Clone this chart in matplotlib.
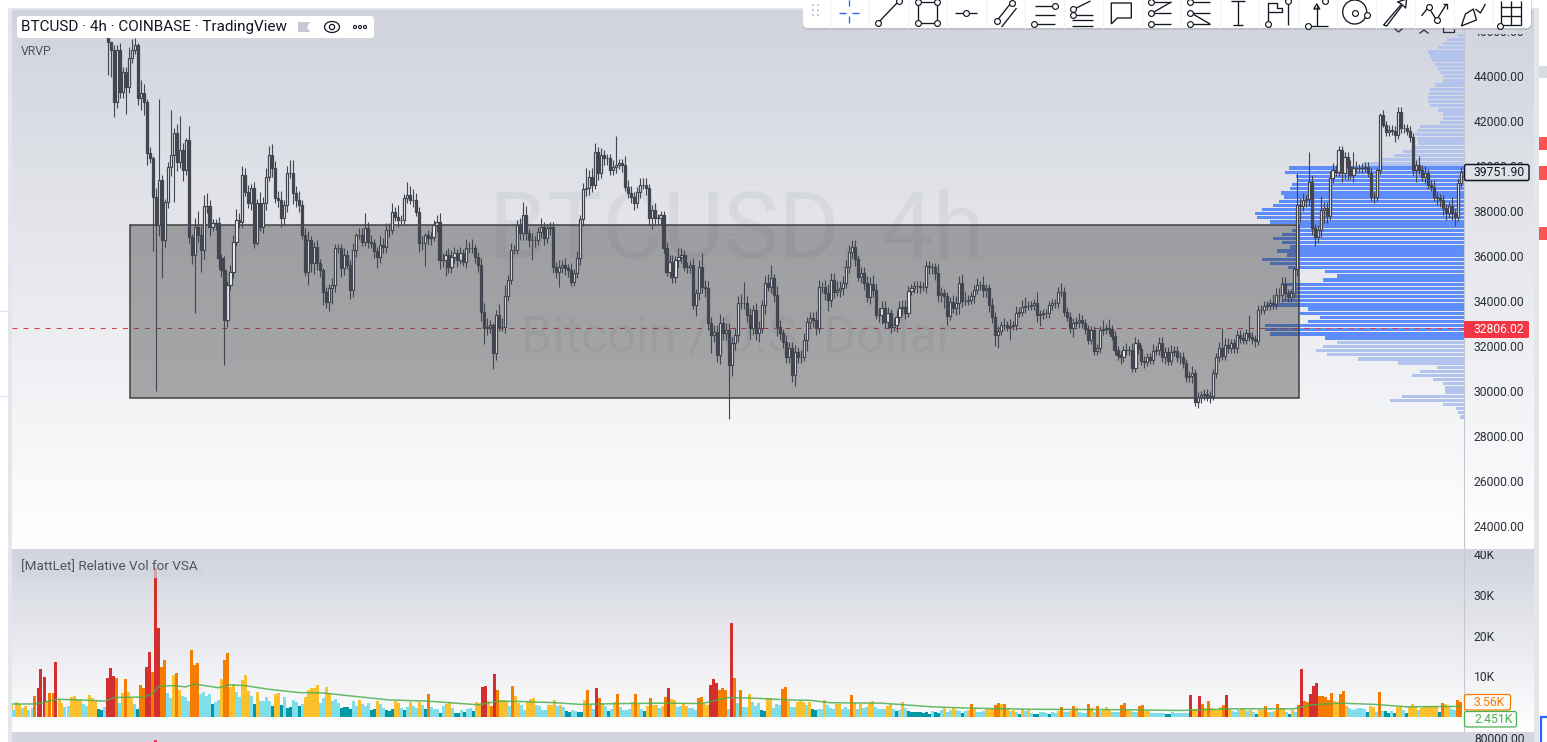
import numpy as np
import matplotlib
matplotlib.use('Agg')
import matplotlib.pyplot as plt
from matplotlib.colors import LinearSegmentedColormap
from matplotlib.patches import Rectangle, FancyBboxPatch, Ellipse, Circle, Polygon

plt.rcParams['font.family'] = ['Roboto', 'DejaVu Sans']

# candle closes (USD), open = previous close
closes = [
    45530, 45160, 42860, 45160, 43300, 44190, 43530, 44790, 45160, 45380,
    43010, 43230, 42860, 40560, 40340, 38640, 37380, 39380, 36710, 38420,
    39970, 40490, 41480, 40190, 40710, 39820, 41160, 36860, 36050, 37310,
    36940, 36270, 38200, 38200, 37310, 37450, 37450, 35900, 35380, 33160,
    34710, 35310, 36640, 37600, 37530, 39600, 38860, 38340, 39010, 36570,
    38340, 37310, 38340, 39530, 40490, 39900, 38570, 38490, 37680, 38270,
    39680, 39680, 38790, 38490, 38270, 36940, 35310, 36710, 35680, 36420,
    35680, 35380, 34420, 33970, 34570, 34710, 36340, 36340, 35460, 36050,
    35600, 34490, 36270, 36940, 36940, 36640, 37230, 36640, 36570, 36200,
    35970, 36490, 36420, 37160, 37160, 37970, 37750, 37600, 37600, 38570,
    38710, 38490, 38490, 37970, 36570, 36570, 36940, 36790, 36860, 37380,
    37530, 35830, 35830, 36050, 35530, 35970, 36120, 35830, 36120, 35750,
    36340, 36340, 36340, 35970, 35600, 33530, 32790, 32860, 32940, 31680,
    33380, 32860, 32860, 34200, 34940, 36270, 36270,
    37380, 37010, 37820, 37010, 36710, 36710, 36710, 37080, 37310, 36790,
    37230, 37310, 35530, 35310, 35530, 35600, 35450, 35380, 34860, 35230,
    35900, 37630, 38960, 39010, 39530, 39160, 40640, 39680, 40490, 40340,
    40340, 39820, 39970, 40050, 40120, 40050, 39080, 38790, 38640, 38340,
    38860, 39160, 39160, 39010, 37680, 38050, 37680, 37680, 37820, 36340,
    35310, 35750, 35080, 35820, 35970, 36050, 35530, 35530, 35600, 33830,
    34340, 35530, 34640, 34570, 33010, 32490, 32640, 31600, 33010, 32570,
    32710, 31160, 32120, 32490, 33930, 33930, 33930, 33380, 32790, 33600,
    32570, 32790, 33830, 34790, 34640, 35010, 34270, 32860, 32570, 32200,
    31530, 31900, 30720, 31750, 31530, 31530, 32270, 33080, 33230, 33160,
    32790, 34640, 34640, 34340, 34050, 34940, 34420, 34490, 34570, 34790,
    35530, 36190, 36390, 35850, 35080, 35230, 34790, 34170, 34760, 34490,
    33380, 33380, 33680, 33080, 33450, 32860, 32940, 33310, 33680, 33750,
    33480, 34460, 34570, 34670, 34670, 34640, 34640, 35560, 35500, 35500,
    35230, 34270, 34340, 34200, 33340, 33970, 33680, 33900, 34820, 34020,
    34020, 34050, 34200, 34490, 34710, 34710, 34490, 34570, 33830, 33310,
    32490,
    32680, 32930, 32930, 32860, 32890, 32930, 33480, 33530, 33750, 33780,
    33780, 33820, 33900, 33380, 33420, 33450, 33450, 33820, 33900, 33900,
    34420, 34420, 33530, 33310, 32790, 33040, 33080, 33160, 33010, 32740,
    32270, 32710, 31780, 31900, 32710, 32740, 32790, 32740, 32450, 31820,
    31600, 31500, 31820, 31820, 31820, 31040, 32120, 31850, 31350, 31310,
    31500, 31380, 31790, 31820, 32120, 31500, 31750, 31350, 31750, 31780,
    31500, 31530, 31230, 30610, 30670, 30790, 29530, 29750, 29820, 29870,
    29750, 29780, 30790, 31500, 31900, 31560, 32050, 31900, 32120, 31900,
    32490, 32340, 32270, 32560, 32420, 32300, 32240, 33600, 33600, 33780,
    33820, 33900, 33850, 34270, 34270, 34760, 34340, 34160, 34340,
    35410, 38270, 38200, 38490, 38520, 39310, 37230, 36860, 37160, 38050,
    38120, 37780, 39460, 39830, 39750, 40710, 39710, 40420, 39970, 39600,
    39930, 39900, 39900, 39930, 39970, 39710, 38640, 38640, 39830, 42270,
    41820, 41530, 41600, 41570, 41380, 42420, 41680, 41680, 41570, 41280,
    39800, 40050, 39830, 39530, 39680, 39160, 39080, 38640, 38570, 38490,
    38120, 37900, 38200, 37900, 37750, 39260, 39750,
]
# wick lengths above / below the body, in hundreds of USD
up_wick = [
    0, 0, 2, 2, 3, 2, 2, 5, 5, 3, 1, 6, 4, 1, 3, 1, 4, 36, 2, 1,
    2, 20, 2, 4, 15, 3, 1, 6, 1, 4, 7, 4, 5, 6, 3, 2, 2, 3, 2, 6,
    2, 3, 3, 5, 3, 4, 3, 3, 2, 3, 2, 5, 3, 4, 4, 5, 3, 3, 4, 2,
    3, 6, 6, 3, 4, 2, 3, 4, 2, 2, 3, 2, 1, 2, 2, 3, 2, 2, 2, 3,
    2, 2, 3, 1, 3, 3, 7, 3, 3, 2, 2, 4, 3, 3, 3, 4, 2, 5, 2, 2,
    6, 4, 5, 3, 2, 3, 1, 2, 2, 2, 3, 4, 3, 2, 3, 3, 3, 2, 3, 2,
    4, 3, 4, 2, 2, 3, 4, 4, 2, 1, 2, 5, 4, 5, 2, 3, 2,
    2, 3, 6, 4, 2, 3, 2, 2, 4, 2, 2, 2, 2, 2, 3, 2, 3, 2, 3, 2,
    3, 2, 3, 9, 3, 4, 4, 2, 3, 2, 2, 2, 3, 13, 2, 2, 4, 3, 3, 2,
    2, 3, 3, 3, 2, 2, 3, 2, 2, 2, 3, 3, 3, 2, 4, 3, 2, 2, 2, 3,
    2, 3, 6, 3, 3, 3, 3, 3, 4, 3, 3, 3, 3, 3, 3, 4, 9, 3, 3, 2,
    3, 3, 2, 3, 4, 6, 2, 4, 3, 2, 3, 3, 3, 3, 2, 3, 3, 2, 3, 3,
    4, 3, 2, 3, 4, 3, 3, 4, 3, 3, 3, 3, 3, 3, 2, 3, 3, 3, 3, 4,
    3, 3, 3, 3, 3, 2, 3, 3, 3, 3, 3, 2, 2, 2, 2, 2, 2, 2, 2, 2,
    2, 4, 3, 2, 2, 2, 3, 3, 3, 4, 4, 2, 2, 2, 3, 2, 4, 2, 2, 3, 2,
    2, 2, 3, 2, 3, 2, 3, 2, 3, 4, 2, 2, 2, 5, 2, 2, 2, 2, 2, 2,
    2, 4, 2, 2, 2, 2, 2, 3, 2, 2, 2, 2, 2, 2, 2, 4, 2, 4, 2, 2,
    2, 2, 2, 3, 2, 3, 3, 2, 2, 2, 2, 2, 3, 2, 3, 3, 2, 2, 3, 2,
    2, 2, 2, 2, 2, 3, 2, 2, 2, 2, 2, 2, 2, 2, 3, 9, 3, 3, 2, 2,
    2, 2, 3, 2, 8, 2, 2, 2, 2, 2, 2, 2, 4, 3, 3, 3, 3, 2, 2,
    1, 14, 3, 3, 2, 13, 3, 2, 2, 6, 3, 3, 3, 3, 2, 2, 2, 2, 2, 3,
    7, 3, 2, 2, 2, 2, 2, 2, 1, 1, 2, 2, 2, 2, 2, 2, 2, 2, 2, 2,
    2, 2, 4, 2, 3, 2, 2, 3, 2, 2, 2, 2, 2, 4, 2, 2, 2,
]
down_wick = [
    15, 12, 7, 3, 3, 3, 12, 3, 2, 2, 3, 5, 6, 5, 2, 24, 74, 5, 17, 3,
    3, 4, 21, 4, 3, 5, 2, 3, 4, 26, 3, 10, 4, 3, 4, 2, 3, 5, 3, 20,
    3, 2, 3, 2, 3, 3, 2, 2, 3, 2, 1, 2, 3, 3, 2, 4, 2, 3, 4, 3,
    3, 2, 5, 3, 3, 2, 2, 6, 4, 5, 3, 3, 6, 3, 4, 7, 3, 2, 4, 3,
    2, 4, 3, 3, 2, 2, 2, 3, 2, 3, 5, 3, 3, 3, 3, 2, 2, 3, 2, 2,
    2, 2, 3, 2, 4, 3, 10, 3, 3, 2, 3, 4, 3, 7, 3, 3, 3, 3, 2, 2,
    3, 2, 2, 3, 3, 4, 7, 3, 3, 7, 3, 2, 2, 3, 2, 2, 2,
    2, 3, 3, 3, 3, 9, 3, 2, 3, 3, 2, 3, 3, 3, 7, 3, 3, 3, 2, 2,
    2, 3, 3, 3, 3, 3, 2, 3, 2, 3, 3, 2, 2, 3, 2, 3, 2, 2, 3, 3,
    2, 3, 2, 3, 3, 5, 3, 3, 3, 2, 2, 3, 3, 3, 3, 3, 2, 3, 3, 2,
    5, 3, 3, 4, 3, 8, 3, 3, 4, 3, 3, 24, 5, 3, 3, 3, 3, 3, 5, 3,
    3, 4, 2, 4, 2, 3, 3, 4, 3, 3, 3, 3, 3, 5, 3, 3, 2, 5, 3, 3,
    3, 2, 3, 3, 5, 3, 3, 2, 3, 3, 2, 3, 3, 3, 2, 3, 3, 2, 3, 3,
    2, 3, 4, 3, 3, 3, 2, 3, 3, 3, 3, 2, 2, 2, 3, 3, 2, 3, 3, 3,
    3, 3, 3, 5, 4, 2, 2, 3, 5, 3, 2, 2, 2, 3, 2, 2, 3, 3, 3, 3, 5,
    6, 2, 2, 2, 6, 2, 2, 2, 2, 3, 2, 2, 2, 3, 5, 2, 2, 2, 2, 2,
    2, 2, 2, 2, 2, 4, 2, 3, 2, 2, 2, 2, 2, 2, 2, 2, 2, 2, 2, 2,
    2, 3, 2, 2, 2, 2, 2, 2, 2, 3, 2, 2, 2, 2, 2, 2, 3, 2, 2, 2,
    2, 3, 2, 2, 2, 3, 2, 3, 3, 2, 2, 3, 2, 2, 2, 2, 2, 2, 2, 2,
    2, 2, 2, 2, 2, 2, 3, 2, 2, 2, 2, 2, 2, 2, 3, 3, 3, 2, 2,
    2, 3, 7, 2, 3, 3, 3, 4, 3, 3, 6, 3, 2, 2, 2, 2, 4, 3, 6, 2,
    3, 2, 2, 2, 2, 2, 2, 3, 2, 2, 1, 2, 2, 2, 3, 2, 2, 2, 2, 2,
    2, 5, 2, 2, 3, 2, 2, 2, 3, 3, 3, 3, 2, 3, 4, 2, 2,
]

# relative volume in thousands, and a colour class per bar
vol_k = [
    3.0, 1.7, 3.7, 3.2, 2.2, 2.7, 1.7, 2.2, 5.2, 7.1,
    11.8, 9.9, 3.7, 5.9, 5.9, 13.5, 4.2, 3.4, 2.5, 2.7,
    4.9, 5.2, 4.2, 4.2, 3.2, 2.7, 5.4, 4.7, 4.2, 2.0,
    1.7, 2.5, 9.6, 12.1, 10.1, 9.6, 3.4, 5.9, 9.4, 6.2,
    4.7, 3.2, 2.0, 7.9, 7.1, 12.3, 16.0, 11.1, 36.6, 21.9,
    12.3, 14.0, 5.9, 4.7, 10.3, 10.8, 6.7, 5.2, 4.9, 3.9,
    16.5, 12.8, 13.3, 5.7, 6.2, 5.2, 5.7, 3.2, 3.7, 4.2,
    9.4, 14.0, 15.8, 7.4, 8.1, 6.2, 4.9, 9.1, 10.3, 6.4,
    5.2, 3.2, 6.2, 3.9, 3.9, 4.9, 3.9, 2.7, 5.7, 5.9,
    3.0, 4.9, 2.2, 2.5, 4.2, 3.7, 2.7, 3.2, 4.9, 6.7,
    7.1, 7.1, 7.9, 3.4, 4.7, 7.4, 5.9, 3.9, 4.4, 3.4,
    2.2, 2.5, 2.5, 2.0, 3.9, 2.7, 4.2, 3.2, 2.7, 3.4,
    1.7, 2.0, 3.9, 3.2, 2.2, 1.7, 1.5, 2.0, 3.9, 3.4,
    2.2, 1.7, 2.5, 3.7, 2.7, 2.2, 3.7, 3.0, 2.0, 5.7,
    2.5, 2.0, 2.0, 1.0, 2.7, 3.2, 3.7, 2.2, 1.0, 1.0,
    1.7, 1.2, 2.0, 2.2, 1.5, 3.7, 3.4, 7.4, 7.6, 3.9,
    2.7, 10.6, 6.7, 4.2, 4.2, 3.9, 2.7, 7.6, 5.2, 3.4,
    3.0, 1.7, 3.7, 4.4, 4.7, 3.0, 2.7, 1.7, 1.7, 3.0,
    3.0, 4.2, 2.7, 3.0, 2.5, 1.5, 1.2, 1.7, 1.5, 1.2,
    1.2, 4.2, 6.7, 3.0, 2.0, 7.1, 4.7, 3.4, 2.7, 1.5,
    2.0, 3.7, 5.7, 2.5, 1.7, 1.7, 2.0, 3.7, 5.7, 3.2,
    2.0, 1.5, 2.7, 4.7, 3.0, 3.0, 2.2, 2.7, 4.9, 7.1,
    4.4, 4.2, 2.5, 2.7, 3.4, 2.7, 2.2, 2.2, 1.7, 4.7,
    4.9, 3.2, 3.0, 7.9, 9.4, 8.4, 6.7, 7.1, 6.7, 2.0,
    23.2, 9.6, 3.4, 6.7, 2.5, 2.5, 5.7, 3.7, 2.7, 3.4,
    1.7, 1.5, 4.7, 4.7, 2.2, 3.2, 3.0, 6.9, 7.4, 3.9,
    2.5, 2.5, 3.7, 3.9, 3.7, 3.0, 3.7, 1.9, 1.7, 2.0,
    2.0, 4.2, 3.0, 2.2, 2.0, 3.2, 3.2, 2.0, 2.5, 2.0,
    5.4, 3.4, 2.0, 3.2, 2.2, 2.5, 3.4, 3.9, 2.5, 2.0,
    2.0, 2.0, 2.7, 3.2, 2.0, 1.5, 1.7, 3.7, 2.2, 1.5,
    1.2, 1.2, 1.2, 1.2, 1.0, 1.2, 0.7, 1.5, 1.2, 1.0,
    1.7, 2.2, 1.2, 1.7, 2.2, 1.7, 1.5, 1.0, 1.5, 1.7,
    3.2, 2.2, 1.2, 1.2, 1.5, 2.0, 2.0, 2.0, 3.0, 3.4,
    3.2, 3.2, 2.2, 1.5, 1.7, 1.2, 0.7, 2.0, 1.5, 1.7,
    1.0, 0.7, 0.7, 1.2, 1.2, 1.0, 0.7, 1.2, 1.0, 1.5,
    2.5, 1.2, 1.2, 1.5, 2.7, 2.2, 1.2, 1.0, 1.0, 3.2,
    2.2, 1.2, 2.7, 1.5, 1.7, 2.5, 1.7, 1.2, 1.2, 1.2,
    3.0, 3.4, 1.7, 1.5, 1.2, 1.2, 2.7, 3.0, 1.5, 1.5,
    1.0, 1.0, 1.0, 1.0, 1.0, 0.7, 0.7, 1.2, 1.0, 1.0,
    1.0, 1.0, 1.0, 5.4, 2.0, 2.0, 5.2, 3.2, 2.2, 3.9,
    2.2, 1.7, 1.7, 2.5, 3.0, 5.4, 2.0, 1.5, 1.2, 1.7,
    2.2, 2.0, 1.5, 1.7, 1.2, 0.7, 1.7, 1.7, 2.7, 1.2,
    1.2, 1.5, 3.2, 2.2, 2.2, 1.2, 0.7, 1.7, 1.2, 3.0,
    11.8, 3.9, 3.7, 5.7, 7.6, 8.4, 5.2, 5.2, 4.9, 4.2,
    5.9, 3.9, 3.7, 5.7, 6.4, 2.7, 2.2, 1.7, 2.0, 2.2,
    2.2, 2.0, 1.2, 2.7, 2.5, 1.2, 6.2, 1.5, 1.5, 1.0,
    1.5, 1.0, 2.5, 2.5, 1.7, 1.0, 2.5, 3.2, 2.5, 1.7,
    2.2, 2.7, 2.7, 2.7, 2.7, 2.7, 1.2, 3.4, 3.2, 2.7,
    2.0, 1.7, 4.2, 3.7,
]
vol_class = (
    'ycyycyccor' 'rryooryycc' 'yyyyccyyyt' 'tcrrrocyoy' 'yctoorrorr'
    'ooccyoyccc' 'ooocccctcc' 'yooyyccyyy' 'ctycccctyy' 'tcttcctcyy'
    'yyyccyyccc' 'ttttccyccc' 'ttycctttyy' 'ctcyccycto' 'ccctcyyctt'
    'ctcctyyrry' 'oroyyycoyy' 'ccyyyccccy' 'yycycttcct' 'tyoycroyct'
    'cyoccccyoy' 'ctyoyycyor' 'yyccyyccco' 'oyyrrroooc' 'rococcyccc'
    'ttyycccooy' 'ccyyycyttc' 'cycccyyccc' 'oycyccyycc' 'ccyyctcyct'
    'tttttttctt' 'cyccycctcy' 'oycccyyyoo' 'yoycyctycy' 'cttccctccy'
    'occyoyccco' 'ycocyyyccc' 'ooyyccooyy' 'cccccttccc' 'cccryyroyo'
    'yyyyoryccc' 'yycyctyyoy' 'cyoyyctyco' 'roorrroooo' 'oyyooycccc'
    'cctyycoctt' 'ctyyctyyyc' 'yyyyyytoyy' 'ccoo'
)

# moving average of the volume: bar number and value (K)
ma_bar = [-32, -24, -17, -9, -1, 2, 12, 15, 17, 22, 26, 29, 37, 41, 46, 54, 64, 72, 81,
          94, 107, 124, 131, 139, 150, 158, 172, 187, 199, 204, 208, 217, 228, 235,
          242, 259, 276, 287, 309, 338, 359, 376, 397, 403, 413, 424, 435, 453]
ma_val = [3.2, 3.2, 4.35, 4.2, 3.9, 4.8, 4.9, 5.8, 7.6, 7.7, 7.4, 8.1, 7.2, 7.9, 7.7, 6.8, 6.0, 5.9, 5.2,
          4.2, 3.9, 3.0, 3.9, 3.8, 3.5, 3.1, 3.3, 3.4, 3.3, 4.2, 4.8, 4.6, 4.2, 4.1,
          3.5, 3.4, 2.5, 2.2, 1.9, 1.8, 1.6, 2.0, 2.0, 3.0, 3.4, 3.1, 2.5, 2.6]

# visible range volume profile, bottom row first (value area is the darker part)
vp_lower = [4, 6, 8, 21, 74, 62, 19, 19, 21, 31, 52, 44, 27, 66, 106, 137, 148, 141, 127]
vp_value_area = [139, 194, 199, 199, 156, 144, 164, 156, 197, 182, 174, 176, 172, 181,
                 141, 127, 139, 176, 194, 202, 177, 187, 174, 182, 191, 182, 172, 167,
                 194, 207, 209, 202, 191, 185, 180, 183, 174, 172, 166, 168, 179, 175]
vp_upper = [101, 85, 70, 61, 49, 46, 47, 49, 47, 44, 24, 21, 21, 26, 34, 36, 36, 35, 34, 29,
            21, 21, 24, 26, 29, 32, 34, 36, 26, 21, 17, 6]
vp_first_price = 28846
vp_step = 184.4

price_ticks = [24000, 26000, 28000, 30000, 32000, 34000, 36000, 38000, 40000, 42000, 44000, 46000]
vol_ticks = [10, 20, 30, 40]
vol_tick_labels = ['10K', '20K', '30K', '40K']

box_top, box_bottom = 37378, 29667
hline_price = 32806.02
last_price = 39751.90

W, H = 1547, 742
DARK = '#434651'
TEXT = '#2a2e39'
VOL_COLORS = {'r': '#d32f2f', 'o': '#f57c00', 'y': '#fbc02d', 'c': '#80deea', 't': '#0097a7'}


def px_rect(left, top, right, bottom):
    return [left / W, 1 - bottom / H, (right - left) / W, (bottom - top) / H]


n = len(closes)
sp = (1461 - 108) / (n - 1)  # pixels per candle


def idx(px):
    return (px - 108) / sp


fig = plt.figure(figsize=(W / 100, H / 100), dpi=100, facecolor='white')

# gradients behind the panes
grad = np.linspace(0, 1, 256).reshape(-1, 1)
cmap = LinearSegmentedColormap.from_list('pane', ['#d1d4dd', '#ffffff'])
for rect_px in [(12, 10, 1534, 549), (12, 550, 1534, 732)]:
    bg = fig.add_axes(px_rect(*rect_px), zorder=0)
    bg.imshow(grad, aspect='auto', cmap=cmap)
    bg.axis('off')

# main pane: the profile sits on this one, box and candles on the twin above it
ax_p = fig.add_axes(px_rect(12, 10, 1464, 549), zorder=1)
ax_p.patch.set_visible(False)
vp_all = vp_lower + vp_value_area + vp_upper
vp_y = vp_first_price + vp_step * np.arange(len(vp_all))
vp_col = ['#b2c3ed'] * len(vp_lower) + ['#5e8cf8'] * len(vp_value_area) + ['#b2c3ed'] * len(vp_upper)
ax_p.barh(vp_y, vp_all, height=vp_step * 0.8, color=vp_col, linewidth=0)
ax_p.set_xlim(1452, 0)
ax_p.set_ylim(22978, 46933)
ax_p.set_xticks([])
ax_p.yaxis.tick_right()
ax_p.set_yticks(price_ticks)
ax_p.set_yticklabels(['%.2f' % p for p in price_ticks], fontsize=8.7, color=TEXT)
ax_p.tick_params(axis='y', length=0, pad=7)
for s in ['top', 'left', 'bottom']:
    ax_p.spines[s].set_visible(False)
ax_p.spines['right'].set_color('#c4c7cf')

ax_p.text(0.4993, 0.588, 'BTCUSD, 4h', transform=ax_p.transAxes, ha='center', va='center',
          fontsize=67, color='#787b86', alpha=0.1)
ax_p.text(0.4993, 0.392, 'Bitcoin / U.S. Dollar', transform=ax_p.transAxes, ha='center', va='center',
          fontsize=36.2, color='#787b86', alpha=0.1)

ax_c = ax_p.twiny()
ax_c.set_zorder(2)
ax_c.patch.set_visible(False)
ax_c.set_xlim(idx(12), idx(1464))
ax_c.set_xticks([])
ax_c.axis('off')

ax_c.axhline(hline_price, color='#d63c4a', lw=0.75, dashes=(4.8, 5.8), zorder=1)
ax_c.add_patch(Rectangle((idx(129.5), box_bottom), idx(1298.5) - idx(129.5), box_top - box_bottom,
                         facecolor=(58 / 255, 58 / 255, 58 / 255, 0.41), edgecolor='#3f3f3f', lw=1.1, zorder=2))

c = np.array(closes, dtype=float)
o = np.r_[46000, c[:-1]]
hi = np.maximum(o, c) + np.array(up_wick) * 100
lo = np.minimum(o, c) - np.array(down_wick) * 100
x = np.arange(n)
rising = c >= o
ax_c.vlines(x, lo, hi, color=DARK, lw=0.8, zorder=3)
ax_c.bar(x[rising], (c - o)[rising], bottom=o[rising], width=0.72, color='white',
         edgecolor=DARK, linewidth=0.9, zorder=4)
ax_c.bar(x[~rising], (o - c)[~rising], bottom=c[~rising], width=0.72, color=DARK,
         edgecolor=DARK, linewidth=0.9, zorder=4)

# volume pane
ax_v = fig.add_axes(px_rect(12, 550, 1464, 732), zorder=1)
ax_v.patch.set_visible(False)
vx = idx(11 + 3 * np.arange(len(vol_k)))
ax_v.bar(vx, vol_k, width=3 / sp, color=[VOL_COLORS[k] for k in vol_class], linewidth=0, antialiased=False)
ax_v.plot(ma_bar, ma_val, color='#4caf50', lw=1.1, alpha=0.85)
ax_v.set_xlim(idx(12), idx(1464))
ax_v.set_ylim(-3.7, 41.1)
ax_v.set_xticks([])
ax_v.yaxis.tick_right()
ax_v.set_yticks(vol_ticks)
ax_v.set_yticklabels(vol_tick_labels, fontsize=8.7, color=TEXT)
ax_v.tick_params(axis='y', length=0, pad=7)
for s in ['top', 'left', 'bottom']:
    ax_v.spines[s].set_visible(False)
ax_v.spines['right'].set_color('#c4c7cf')

# everything below is screen furniture, drawn in pixels
ui = fig.add_axes([0, 0, 1, 1], zorder=5)
ui.set_xlim(0, W)
ui.set_ylim(H, 0)
ui.axis('off')


def rect(l, t, r, b, **kw):
    kw.setdefault('linewidth', 0)
    ui.add_patch(Rectangle((l, t), r - l, b - t, **kw))


def rbox(l, t, r, b, rad=2, **kw):
    ui.add_patch(FancyBboxPatch((l + rad, t + rad), r - l - 2 * rad, b - t - 2 * rad,
                                boxstyle='round,pad=%g,rounding_size=%g' % (rad, rad), **kw))


rect(8, 8, 1539, 10, color='#e4e6ee')
rect(8, 8, 12, 742, color='#e4e6ee')
rect(1534, 8, 1539, 742, color='#e4e6ee')
rect(12, 549, 1534, 551, color='#d1d4dc')
rect(12, 732, 1534, 742, color='#d3d6df')
rect(154, 740, 157, 742, color='#f23645')
ui.text(1474, 739.5, '80000.00', fontsize=8.7, color=TEXT, va='center')
rect(1539, 66, 1547, 78, color='#d8dbe3')
for t, b in [(137, 150), (166, 180), (227, 240)]:
    rect(1539, t, 1547, b, color='#ff5252')
for yy in [311, 396]:
    ui.plot([0, 8], [yy, yy], color='#e4e6ee', lw=1)
ui.plot([1547, 1540.5, 1540.5], [717, 717, 742], color='#2962ff', lw=1.6, solid_joinstyle='miter')

# legend rows
rbox(17, 16, 374, 38, rad=3, facecolor='white', edgecolor='none')
ui.text(21, 27.5, 'BTCUSD \u00b7 4h \u00b7 COINBASE \u00b7 TradingView', fontsize=11, color='#131722', va='center')
ui.add_patch(Polygon([(298, 22), (310, 22), (307, 27), (310, 32), (298, 32)], facecolor='#c8cad3', edgecolor='none'))
ui.add_patch(Ellipse((332, 27), 15, 11, facecolor='none', edgecolor='#131722', lw=0.9))
ui.add_patch(Circle((332, 27), 2.6, facecolor='none', edgecolor='#131722', lw=0.9))
for dx in [355, 360, 365]:
    ui.add_patch(Circle((dx, 27), 1.5, facecolor='none', edgecolor='#131722', lw=0.8))
rbox(16, 43, 58, 62, rad=2, facecolor='#d3d6df', edgecolor='none', alpha=0.7)
ui.text(21, 51.5, 'VRVP', fontsize=8.8, color='#50535e', va='center')
rbox(16, 556, 203, 578, rad=2, facecolor='#d3d6df', edgecolor='none', alpha=0.7)
ui.text(21, 566.5, '[MattLet] Relative Vol for VSA', fontsize=9.7, color='#50535e', va='center')

# price labels on the axes
rbox(1464.5, 164.5, 1529, 180.5, rad=2, facecolor='#e0e2e8', edgecolor='#131722', lw=1.1)
ui.text(1474, 172.5, '%.2f' % last_price, fontsize=8.7, color='#131722', va='center')
rbox(1464, 321, 1529, 338, rad=1.5, facecolor='#f23645', edgecolor='none')
ui.text(1474, 329.5, '%.2f' % hline_price, fontsize=8.7, color='white', va='center')
rbox(1464.5, 694.5, 1510.5, 710, rad=2, facecolor='#fafafb', edgecolor='#f57c00', lw=0.9)
ui.text(1474, 702.5, '3.56K', fontsize=8.7, color='#f57c00', va='center')
rbox(1464.5, 711.5, 1516.5, 727, rad=2, facecolor='#fafafb', edgecolor='#4caf50', lw=0.9)
ui.text(1474, 719.5, '2.451K', fontsize=8.7, color='#4caf50', va='center')

# the three pane buttons peeking out under the toolbar
ui.plot([1395, 1398.5, 1402], [29, 32, 29], color=TEXT, lw=0.9)
ui.plot([1420, 1424, 1428], [33, 30, 33], color=TEXT, lw=0.9)
ui.plot([1443, 1443, 1454, 1454], [28, 32, 32, 28], color=TEXT, lw=0.9)

# the toolbar shadow hides nearly all of the 46000 label
rect(1465, 27, 1534, 34, color='#d3d6df')

# drawing toolbar
rbox(803, -12, 1532, 30, rad=5, facecolor='#9a9ca3', edgecolor='none', alpha=0.35)
rbox(803, -12, 1531, 28, rad=5, facecolor='white', edgecolor='none')
for k in range(18):
    xx = 829.5 + 39 * k
    ui.plot([xx, xx], [0, 28], color='#f0f3fa', lw=0.8)
for dx in [813, 818]:
    for dy in [5, 10, 15]:
        rect(dx - 1, dy - 1, dx + 1, dy + 1, color='#c9ccd4')

# per icon: polylines and node circles, relative to the icon centre at y=12
icons = [
    ([[(-10, 1), (-3, 1)], [(3, 1), (10, 1)], [(0, -12), (0, -6)], [(0, 4), (0, 11)]], []),
    ([[(-10, 11), (11, -11)]], [(-10, 11), (11, -11)]),
    ([[(-9, -10), (-9, 11), (10, 11), (10, -10), (-9, -10)]], [(-9, -10), (10, -10), (-9, 11), (10, 11)]),
    ([[(-11, 1), (11, 1)]], [(0, 1)]),
    ([[(-8, 9), (8, -11)], [(-3, 15), (12, -4)]], [(-8, 9), (7, -9)]),
    ([[(-9, -6), (11, -6)], [(-9, 3), (11, 3)], [(-9, 12), (11, 12)]], [(11, -6), (-10, 12)]),
    ([[(-8, -3), (8, -11)], [(-10, 3), (11, 3)], [(-10, 8), (11, 8)], [(-10, 14), (11, 14)]], [(-9, -3), (-9, 3)]),
    ([[(-10, 12), (-10, -9), (10, -9), (10, 6), (-4, 6), (-10, 12)]], []),
    ([[(-8, -10), (11, -10)], [(-8, 1), (11, 1)], [(-8, 12), (11, 12)], [(-8, 1), (11, -10)]], [(-9, -10), (-9, 1), (-9, 12)]),
    ([[(-8, -10), (11, -10)], [(-8, 1), (11, 1)], [(-8, 12), (11, 12)], [(-8, 1), (11, 12)]], [(-9, -10), (-9, 1), (-9, 12)]),
    ([[(-7, -11), (7, -11)], [(0, -11), (0, 13)], [(-5, 13), (5, 13)]], []),
    ([[(-9, 11), (-9, -9), (0, -9), (0, -4), (5, -4), (5, 0), (-9, 0)], [(11, -10), (11, 13)]], [(-9, 12), (11, -11)]),
    ([[(-8, 14), (12, 14)], [(1, 14), (1, -6)], [(-2, -3), (1, -8), (4, -3), (-2, -3)]], [(-8, 14), (9, -11)]),
    ([], [(0, 1), (12, 3)]),
    ([[(-10, 13), (8, -8), (4, -10), (13, -13), (12, -4), (9, -7), (-7, 14), (-10, 13)]], []),
    ([[(-11, 4), (-4, -5), (4, 8), (14, -8)], [(10, -8), (14, -8), (14, -3)]], [(-4, -5), (4, 8)]),
    ([[(-10, 14), (-6, 2), (2, -3), (5, 8), (-10, 14)], [(4, -3), (9, 1), (14, -8)]], []),
    ([[(-9, 13), (-9, -11)], [(1, 13), (1, -11)], [(11, 13), (11, -11)], [(-9, -5), (11, -5)], [(-9, 4), (11, 4)], [(-9, 13), (11, 13)]], [(-10, 14)]),
]
for k, (lines, nodes) in enumerate(icons):
    cx = 849 + 38.9 * k
    col = '#2962ff' if k == 0 else '#131722'
    for ln in lines:
        ui.plot([cx + p[0] for p in ln], [12 + p[1] for p in ln], color=col, lw=0.95, solid_capstyle='butt')
    if k == 13:
        ui.add_patch(Circle((cx, 12), 12, facecolor='none', edgecolor=col, lw=0.95))
    for p in nodes:
        ui.plot(cx + p[0], 12 + p[1], 'o', ms=4.2, mfc='white', mec=col, mew=0.85)

fig.savefig('out.png', dpi=100)
